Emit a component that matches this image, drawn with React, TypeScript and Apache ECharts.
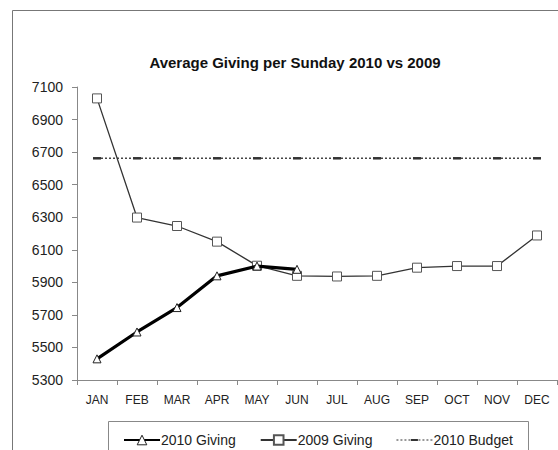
import React, { useEffect, useRef } from "react";
import * as echarts from "echarts";

const months = ["JAN", "FEB", "MAR", "APR", "MAY", "JUN", "JUL", "AUG", "SEP", "OCT", "NOV", "DEC"];
const giving2010 = [5430, 5595, 5745, 5940, 6000, 5980];
const giving2009 = [7030, 6298, 6246, 6150, 6002, 5940, 5936, 5940, 5990, 6000, 6000, 6188];
const budget2010 = [6662, 6662, 6662, 6662, 6662, 6662, 6662, 6662, 6662, 6662, 6662, 6662];
const yTicks = { min: 5300, max: 7100, interval: 200 };

const budgetIcon =
  "path://M0,1h2v1h-2z M4,1h2v1h-2z M8,1h2v1h-2z M12,1h2v1h-2z M14.5,0.5h7v2h-7z M22,1h2v1h-2z M26,1h2v1h-2z M30,1h2v1h-2z M34,1h2v1h-2z";

export default function App() {
  const ref = useRef<HTMLDivElement>(null);
  useEffect(() => {
    const chart = echarts.init(ref.current!, null, { renderer: "svg" });
    const font = "Liberation Sans, Arial, sans-serif";
    chart.setOption({
      animation: false,
      backgroundColor: "#ffffff",
      textStyle: { fontFamily: font, color: "#222" },
      title: {
        text: "Average Giving per Sunday 2010 vs 2009",
        left: 290,
        textAlign: "center",
        top: 50,
        textStyle: { fontFamily: font, fontSize: 15, fontWeight: "bold", color: "#111" },
      },
      graphic: [
        {
          type: "rect",
          shape: { x: 12.5, y: 10.5, width: 600, height: 500 },
          style: { fill: "none", stroke: "#777", lineWidth: 1 },
          silent: true,
        },
        {
          type: "rect",
          shape: { x: 108.5, y: 421.5, width: 420, height: 60 },
          style: { fill: "none", stroke: "#888", lineWidth: 1 },
          silent: true,
        },
      ],
      legend: {
        left: 118,
        top: 428,
        itemWidth: 36,
        itemHeight: 12,
        itemGap: 24,
        textStyle: { fontFamily: font, fontSize: 14, color: "#222", padding: [0, 0, 0, -4] },
        data: [
          { name: "2010 Giving", itemStyle: { borderWidth: 1 } },
          { name: "2009 Giving" },
          { name: "2010 Budget", icon: budgetIcon, itemStyle: { color: "#333" } },
        ],
      },
      grid: { left: 77, top: 87, right: 1, bottom: 70, containLabel: false },
      xAxis: {
        type: "category",
        data: months,
        boundaryGap: true,
        axisLine: { lineStyle: { color: "#888", width: 1 } },
        axisTick: { show: true, length: 5, lineStyle: { color: "#888" } },
        axisLabel: { fontFamily: font, fontSize: 12, color: "#222", margin: 14 },
      },
      yAxis: {
        type: "value",
        min: yTicks.min,
        max: yTicks.max,
        interval: yTicks.interval,
        axisLine: { show: true, lineStyle: { color: "#888", width: 1 } },
        axisTick: { show: true, length: 5, lineStyle: { color: "#888" } },
        axisLabel: {
          fontFamily: font,
          fontSize: 14,
          color: "#222",
          margin: 14,
          formatter: (v: number) => String(v),
        },
        splitLine: { show: false },
      },
      series: [
        {
          name: "2010 Giving",
          type: "line",
          data: giving2010,
          symbol: "triangle",
          symbolSize: 8,
          showAllSymbol: true,
          lineStyle: { color: "#000", width: 3.2 },
          itemStyle: { color: "#fff", borderColor: "#222", borderWidth: 1 },
          z: 4,
        },
        {
          name: "2009 Giving",
          type: "line",
          data: giving2009,
          symbol: "rect",
          symbolSize: 9,
          showAllSymbol: true,
          lineStyle: { color: "#333", width: 1.3 },
          itemStyle: { color: "#fff", borderColor: "#555", borderWidth: 1 },
          z: 3,
        },
        {
          name: "2010 Budget",
          type: "line",
          data: budget2010,
          symbol: "rect",
          symbolSize: [8, 2.5],
          symbolKeepAspect: false,
          showAllSymbol: true,
          lineStyle: { color: "#444", width: 1.5, type: [2, 2] },
          itemStyle: { color: "#333", borderWidth: 0 },
          z: 2,
        },
      ],
    });
    return () => chart.dispose();
  }, []);
  return (
    <div
      ref={ref}
      style={{ position: "fixed", left: 0, top: 0, width: 558, height: 450 }}
    />
  );
}
